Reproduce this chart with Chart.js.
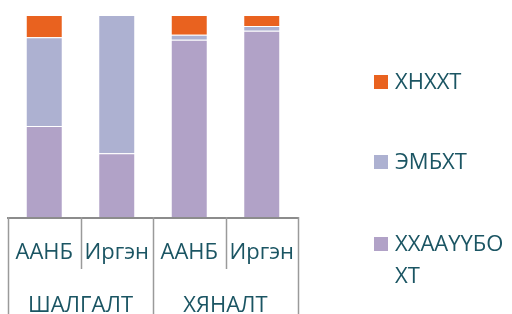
<!DOCTYPE html>
<html>
<head>
<meta charset="utf-8">
<script src="https://cdn.jsdelivr.net/npm/chart.js@4"></script>
<style>
  html, body { margin: 0; padding: 0; background: #fff; }
  #wrap { width: 512px; height: 314px; overflow: hidden; }
</style>
</head>
<body>
<div id="wrap"><canvas id="chart" width="512" height="314"></canvas></div>
<script>
// Ангилал (доод түвшин) болон бүлэг (дээд түвшин)
const categories = ['ААНБ', 'Иргэн', 'ААНБ', 'Иргэн'];
const groups = ['ШАЛГАЛТ', 'ХЯНАЛТ'];
const groupSize = 2;

// Цувааны утгууд (%)
const seriesNames = ['ХХААҮҮБОХТ', 'ЭМБХТ', 'ХНХХТ'];
const xxaaValues = [45, 31.5, 87.7, 92.2];
const embxtValues = [44, 68.5, 2.5, 2.3];
const xnxxtValues = [11, 0, 9.8, 5.5];
const seriesColors = ['#b1a2c7', '#adb1d1', '#e9621f'];

const textColor = '#1b5563';
const font = '500 22px "Open Sans", "Noto Sans", sans-serif';

// Олон түвшинтэй тэнхлэг ба тайлбарыг зурах
const multiAxisPlugin = {
  id: 'multiAxis',
  afterDraw(chart) {
    const ctx = chart.ctx;
    const x = chart.scales.x;
    const area = chart.chartArea;
    const n = categories.length;
    const edges = [area.left];
    for (let i = 0; i < n - 1; i++) {
      edges.push((x.getPixelForValue(i) + x.getPixelForValue(i + 1)) / 2);
    }
    edges.push(area.right);

    ctx.save();
    // тэнхлэгийн шугам
    ctx.strokeStyle = '#8c8c8c';
    ctx.lineWidth = 2;
    ctx.beginPath();
    ctx.moveTo(area.left - 1, area.bottom + 1);
    ctx.lineTo(area.right + 1, area.bottom + 1);
    ctx.stroke();

    // хуваах шугамууд
    ctx.strokeStyle = '#9a9a9a';
    ctx.lineWidth = 1.5;
    edges.forEach((px, i) => {
      const full = i % groupSize === 0;
      ctx.beginPath();
      ctx.moveTo(Math.round(px) + 0.5, area.bottom);
      ctx.lineTo(Math.round(px) + 0.5, full ? chart.height : area.bottom + 52);
      ctx.stroke();
    });

    // шошго
    ctx.fillStyle = textColor;
    ctx.font = font;
    ctx.textAlign = 'center';
    ctx.textBaseline = 'alphabetic';
    categories.forEach((c, i) => {
      ctx.fillText(c, x.getPixelForValue(i), area.bottom + 42);
    });
    groups.forEach((g, i) => {
      const l = edges[i * groupSize];
      const r = edges[(i + 1) * groupSize];
      ctx.fillText(g, (l + r) / 2, area.bottom + 95);
    });

    // тайлбар (дээрээс доош: стекийн дээд хэсэг эхэнд)
    const legendBase = [89, 169, 251];
    const maxW = 512 - 396;
    ctx.textAlign = 'left';
    const ds = chart.data.datasets.slice().reverse();
    ds.forEach((d, i) => {
      const by = legendBase[i];
      ctx.fillStyle = d.backgroundColor;
      ctx.fillRect(374, by - 14, 14, 14);
      ctx.fillStyle = textColor;
      // тэмдэгтээр нь мөр хуваах
      const lines = [];
      let cur = '';
      for (const ch of d.label) {
        if (ctx.measureText(cur + ch).width > maxW && cur) {
          lines.push(cur);
          cur = ch;
        } else {
          cur += ch;
        }
      }
      lines.push(cur);
      lines.forEach((ln, j) => ctx.fillText(ln, 395, by + j * 32));
    });
    ctx.restore();
  }
};

new Chart(document.getElementById('chart'), {
  type: 'bar',
  data: {
    labels: categories,
    datasets: [
      { label: seriesNames[0], data: xxaaValues, backgroundColor: seriesColors[0] },
      { label: seriesNames[1], data: embxtValues, backgroundColor: seriesColors[1] },
      { label: seriesNames[2], data: xnxxtValues, backgroundColor: seriesColors[2] }
    ].map(d => Object.assign(d, {
      borderColor: 'rgba(255,255,255,0.55)',
      borderWidth: 1,
      categoryPercentage: 1,
      barPercentage: 0.51
    }))
  },
  options: {
    responsive: false,
    animation: false,
    layout: { padding: { left: 8, right: 214, top: 15, bottom: 97 } },
    plugins: { legend: { display: false }, tooltip: { enabled: false } },
    scales: {
      x: { stacked: true, display: false },
      y: { stacked: true, display: false, min: 0, max: 100 }
    }
  },
  plugins: [multiAxisPlugin]
});
</script>
</body>
</html>
